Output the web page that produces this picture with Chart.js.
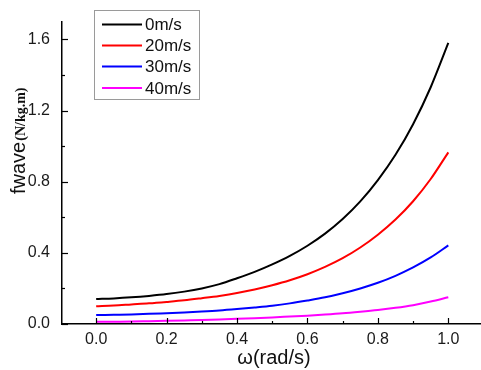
<!DOCTYPE html>
<html>
<head>
<meta charset="utf-8">
<script src="https://cdn.jsdelivr.net/npm/chart.js@4.4.1/dist/chart.umd.min.js"></script>
<style>
  html, body { margin: 0; padding: 0; background: #ffffff; }
  canvas { display: block; }
</style>
</head>
<body>
<canvas id="chart" width="481" height="370"></canvas>
<script>
// Angular frequency (rad/s)
const omega = [0.00, 0.05, 0.10, 0.15, 0.20, 0.25, 0.30, 0.35, 0.40, 0.45, 0.50,
               0.55, 0.60, 0.65, 0.70, 0.75, 0.80, 0.85, 0.90, 0.95, 1.00];

// Wave force per unit length (N/kg.m) for each current speed
const speedLabels = ['0m/s', '20m/s', '30m/s', '40m/s'];
const fwave0  = [0.140, 0.144, 0.150, 0.158, 0.168, 0.182, 0.200, 0.224, 0.257, 0.293, 0.335,
                 0.383, 0.440, 0.508, 0.590, 0.689, 0.809, 0.951, 1.123, 1.331, 1.580];
const fwave20 = [0.100, 0.104, 0.110, 0.116, 0.124, 0.133, 0.145, 0.158, 0.174, 0.194, 0.218,
                 0.246, 0.280, 0.321, 0.370, 0.430, 0.502, 0.587, 0.690, 0.815, 0.965];
const fwave30 = [0.050, 0.052, 0.054, 0.057, 0.061, 0.065, 0.070, 0.076, 0.084, 0.093, 0.103,
                 0.116, 0.132, 0.150, 0.173, 0.200, 0.232, 0.271, 0.318, 0.374, 0.442];
const fwave40 = [0.012, 0.013, 0.014, 0.016, 0.018, 0.020, 0.022, 0.025, 0.029, 0.033, 0.037,
                 0.042, 0.047, 0.053, 0.060, 0.069, 0.079, 0.091, 0.106, 0.126, 0.150];

// Axis ticks
const xTickValues  = [0.0, 0.2, 0.4, 0.6, 0.8, 1.0];
const xMinorValues = [0.1, 0.3, 0.5, 0.7, 0.9];
const yTickValues  = [0.0, 0.4, 0.8, 1.2, 1.6];
const yMinorValues = [0.2, 0.6, 1.0, 1.4];

const lineColors = ['#000000', '#ff0000', '#0000ff', '#ff00ff'];
const seriesValues = [fwave0, fwave20, fwave30, fwave40];

const SANS = '"Liberation Sans", Arial, sans-serif';
const SERIF = '"Liberation Serif", "Times New Roman", serif';

const datasets = seriesValues.map((vals, i) => ({
  label: speedLabels[i],
  data: omega.map((w, k) => ({ x: w, y: vals[k] })),
  borderColor: lineColors[i],
  backgroundColor: lineColors[i],
  borderWidth: 2,
  pointRadius: 0,
  fill: false,
  cubicInterpolationMode: 'monotone'
}));

// Inward tick marks, axis titles and the boxed legend
const decorations = {
  id: 'decorations',
  afterDraw(chart) {
    const ctx = chart.ctx;
    const area = chart.chartArea;
    const xs = chart.scales.x;
    const ys = chart.scales.y;
    ctx.save();
    ctx.strokeStyle = '#000';
    ctx.lineWidth = 1.2;
    const tick = (x1, y1, x2, y2) => {
      ctx.beginPath(); ctx.moveTo(x1, y1); ctx.lineTo(x2, y2); ctx.stroke();
    };
    xTickValues.forEach(v => { const p = Math.round(xs.getPixelForValue(v)) + 0.5; tick(p, area.bottom, p, area.bottom - 6); });
    xMinorValues.forEach(v => { const p = Math.round(xs.getPixelForValue(v)) + 0.5; tick(p, area.bottom, p, area.bottom - 3); });
    yTickValues.forEach(v => { const p = Math.round(ys.getPixelForValue(v)) + 0.5; tick(area.left, p, area.left + 6, p); });
    yMinorValues.forEach(v => { const p = Math.round(ys.getPixelForValue(v)) + 0.5; tick(area.left, p, area.left + 3, p); });

    // x-axis title
    ctx.fillStyle = '#111';
    ctx.font = '20px ' + SANS;
    ctx.textAlign = 'center';
    ctx.textBaseline = 'alphabetic';
    ctx.fillText('ω(rad/s)', (area.left + area.right) / 2 + 3, 364);

    // y-axis title, rotated
    ctx.save();
    ctx.translate(25, 194);
    ctx.rotate(-Math.PI / 2);
    ctx.textAlign = 'left';
    ctx.font = '20px ' + SANS;
    ctx.fillText('fwave', 0, 0);
    const w1 = ctx.measureText('fwave').width;
    ctx.font = 'bold 14px ' + SERIF;
    ctx.fillText('(N/kg.m)', w1 + 1, 0);
    ctx.restore();

    // legend
    const bx = 94, by = 10, bw = 105, bh = 89;
    ctx.fillStyle = '#fff';
    ctx.fillRect(bx, by, bw, bh);
    ctx.strokeStyle = '#9a9a9a';
    ctx.lineWidth = 1;
    ctx.strokeRect(bx + 0.5, by + 0.5, bw, bh);
    const rows = [24.5, 45.5, 66.5, 88];
    chart.data.datasets.forEach((ds, i) => {
      ctx.strokeStyle = ds.borderColor;
      ctx.lineWidth = 2;
      tick(102, rows[i], 142, rows[i]);
      ctx.fillStyle = '#111';
      ctx.font = '17px ' + SANS;
      ctx.textAlign = 'left';
      ctx.textBaseline = 'middle';
      ctx.fillText(ds.label, 145, rows[i] + 1);
    });
    ctx.restore();
  }
};

new Chart(document.getElementById('chart'), {
  type: 'line',
  data: { datasets },
  options: {
    responsive: false,
    animation: false,
    events: [],
    layout: { padding: { top: 12, right: 1, left: 0, bottom: 0 } },
    plugins: { legend: { display: false }, tooltip: { enabled: false } },
    scales: {
      x: {
        type: 'linear',
        min: -0.097,
        max: 1.09,
        afterBuildTicks: s => { s.ticks = xTickValues.map(v => ({ value: v })); },
        afterFit: s => { s.height = 46; },
        ticks: {
          callback: v => Number(v).toFixed(1),
          font: { family: SANS, size: 16 },
          color: '#1a1a1a',
          padding: 6,
          maxRotation: 0,
          autoSkip: false
        },
        grid: { display: false, drawTicks: false },
        border: { display: true, color: '#000', width: 1.5 }
      },
      y: {
        type: 'linear',
        min: 0,
        max: 1.7,
        afterBuildTicks: s => { s.ticks = yTickValues.map(v => ({ value: v })); },
        afterFit: s => { s.width = 62; },
        ticks: {
          callback: v => Number(v).toFixed(1),
          font: { family: SANS, size: 16 },
          color: '#1a1a1a',
          padding: 12,
          autoSkip: false
        },
        grid: { display: false, drawTicks: false },
        border: { display: true, color: '#000', width: 1.5 }
      }
    }
  },
  plugins: [decorations]
});
</script>
</body>
</html>
